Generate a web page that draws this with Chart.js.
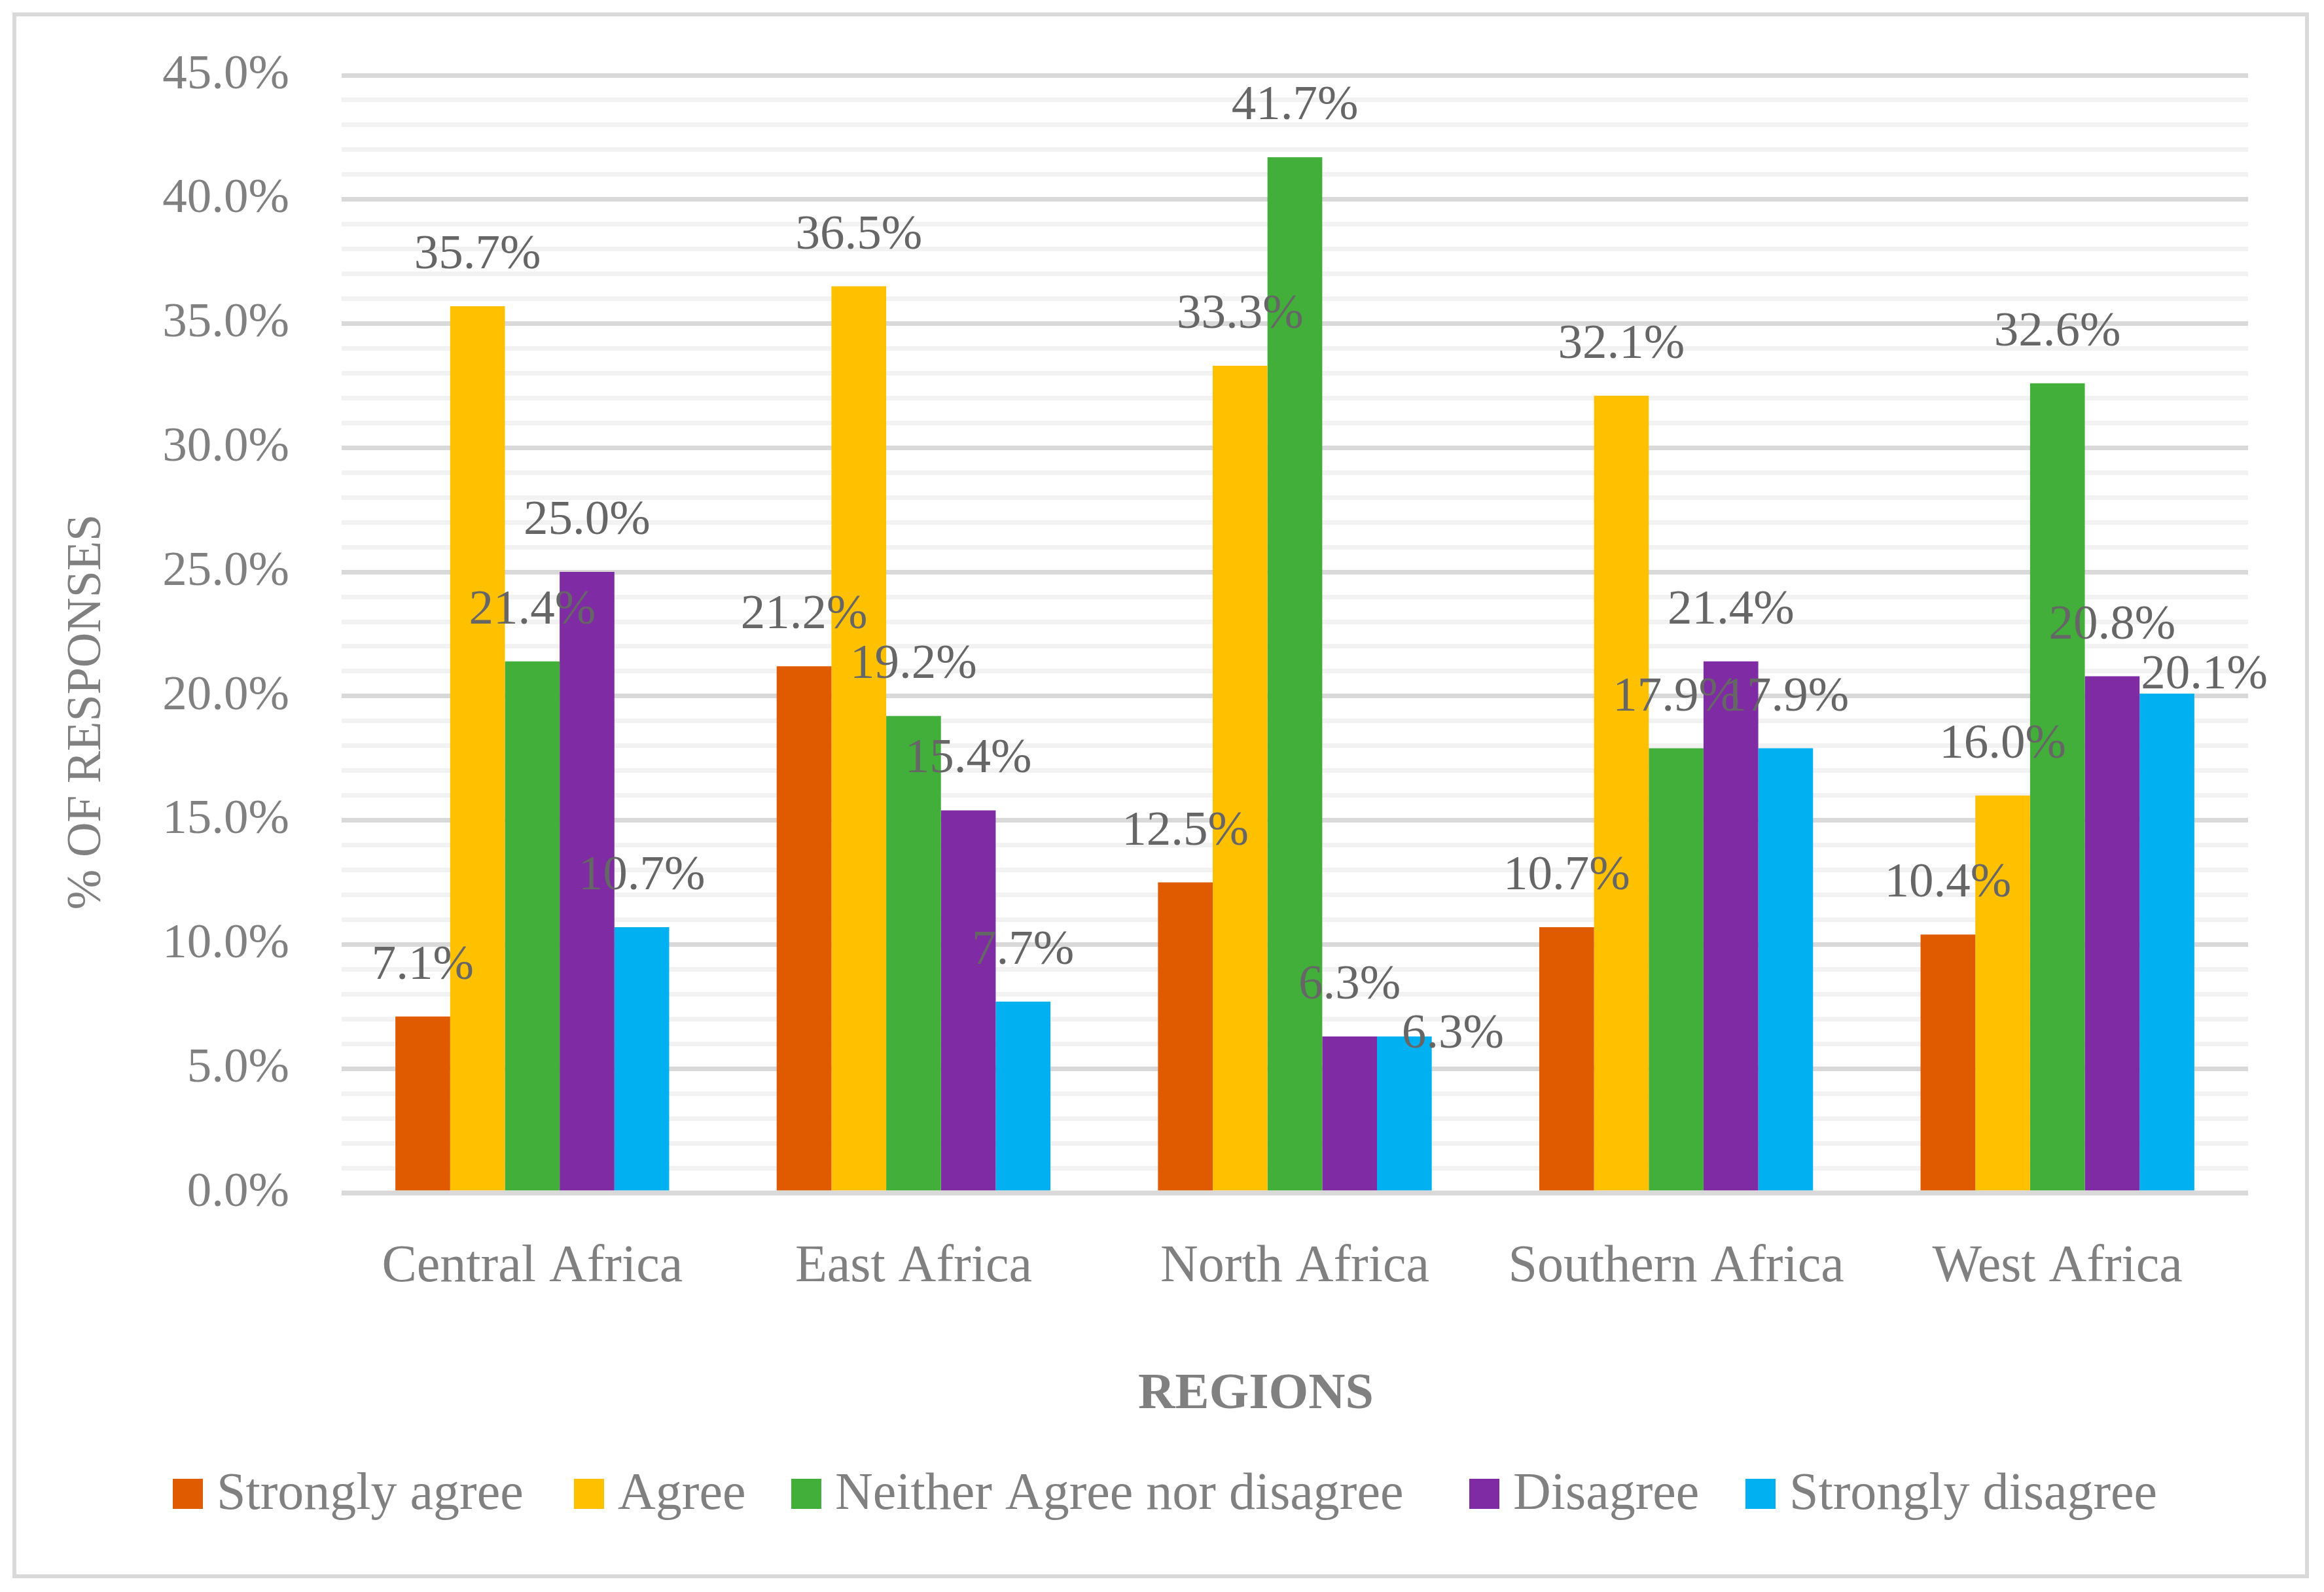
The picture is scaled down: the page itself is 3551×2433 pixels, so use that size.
<!DOCTYPE html>
<html><head><meta charset="utf-8">
<script src="https://cdn.jsdelivr.net/npm/chart.js@4.4.0/dist/chart.umd.min.js"></script>
<style>html,body{margin:0;padding:0;background:#fff;overflow:hidden;} canvas{display:block;}</style>
</head><body>
<canvas id="c" width="3551" height="2433" style="width:3551px;height:2433px"></canvas>
<script>
const categories = ['Central Africa', 'East Africa', 'North Africa', 'Southern Africa', 'West Africa'];
const seriesNames = ['Strongly agree', 'Agree', 'Neither Agree nor disagree', 'Disagree', 'Strongly disagree'];
const stronglyAgree    = [7.1, 21.2, 12.5, 10.7, 10.4];
const agree            = [35.7, 36.5, 33.3, 32.1, 16.0];
const neither          = [21.4, 19.2, 41.7, 17.9, 32.6];
const disagree         = [25.0, 15.4, 6.3, 21.4, 20.8];
const stronglyDisagree = [10.7, 7.7, 6.3, 17.9, 20.1];
const seriesColors = ['#E05A00', '#FFC000', '#43AF3B', '#7F2BA3', '#00B0F0'];
const yMin = 0, yMax = 45, yMajorStep = 5, yMinorStep = 1;
const xTitle = 'REGIONS';
const yTitle = '% OF RESPONSES';

const FONT = "'Liberation Serif', 'Times New Roman', serif";
const seriesValues = [stronglyAgree, agree, neither, disagree, stronglyDisagree];

// manually moved data labels (dataset index, category index) -> pixel nudge
const labelNudges = { '4,2': [74, 75], '4,4': [57, 50] };
// legend box left edges
const legendBoxX = [264, 877, 1209, 2245, 2667];

const decorPlugin = {
  id: 'decor',
  beforeDraw(chart) {
    const ctx = chart.ctx;
    ctx.save();
    ctx.fillStyle = '#ffffff';
    ctx.fillRect(0, 0, chart.width, chart.height);
    ctx.strokeStyle = '#d9d9d9';
    ctx.lineWidth = 6;
    ctx.strokeRect(22, 22, 3525 - 22, 2409 - 22);
    ctx.restore();
  },
  afterDatasetsDraw(chart) {
    const ctx = chart.ctx;
    const ys = chart.scales.y;
    const area = chart.chartArea;
    ctx.save();
    const y0 = ys.getPixelForValue(0);
    ctx.strokeStyle = '#d9d9d9';
    ctx.lineWidth = 7;
    ctx.beginPath();
    ctx.moveTo(area.left, y0);
    ctx.lineTo(area.right, y0);
    ctx.stroke();
    ctx.fillStyle = '#666666';
    ctx.font = '75px ' + FONT;
    ctx.textAlign = 'center';
    ctx.textBaseline = 'alphabetic';
    chart.data.datasets.forEach((ds, di) => {
      const meta = chart.getDatasetMeta(di);
      meta.data.forEach((el, i) => {
        const n = labelNudges[di + ',' + i] || [0, 0];
        ctx.fillText(ds.data[i].toFixed(1) + '%', el.x + n[0], el.y - 58 + n[1]);
      });
    });
    ctx.restore();
  },
  afterDraw(chart) {
    const ctx = chart.ctx;
    ctx.save();
    ctx.fillStyle = '#808080';
    ctx.font = '74px ' + FONT;
    ctx.textAlign = 'center';
    ctx.textBaseline = 'middle';
    ctx.translate(134, 1088);
    ctx.rotate(-Math.PI / 2);
    ctx.fillText(yTitle, 0, 0);
    ctx.restore();
    ctx.save();
    ctx.fillStyle = '#808080';
    ctx.font = 'bold 78px ' + FONT;
    ctx.textAlign = 'center';
    ctx.textBaseline = 'alphabetic';
    ctx.fillText(xTitle, 1919, 2152);
    ctx.font = '80px ' + FONT;
    ctx.textAlign = 'left';
    const box = 46, gap = 21;
    chart.data.datasets.forEach((ds, i) => {
      const x = legendBoxX[i];
      ctx.fillStyle = ds.backgroundColor;
      ctx.fillRect(x, 2260, box, box);
      ctx.fillStyle = '#808080';
      ctx.fillText(ds.label, x + box + gap, 2306);
    });
    ctx.restore();
  }
};

new Chart(document.getElementById('c'), {
  type: 'bar',
  data: {
    labels: categories,
    datasets: seriesNames.map((name, i) => ({
      label: name,
      data: seriesValues[i],
      backgroundColor: seriesColors[i],
      borderWidth: 0,
      barPercentage: 1.0,
      categoryPercentage: 0.718
    }))
  },
  options: {
    responsive: false,
    maintainAspectRatio: false,
    devicePixelRatio: 1,
    animation: false,
    layout: { padding: { left: 0, right: 116, top: 115, bottom: 0 } },
    plugins: { legend: { display: false }, tooltip: { enabled: false }, title: { display: false } },
    scales: {
      x: {
        type: 'category',
        grid: { display: false },
        border: { display: false },
        ticks: { color: '#808080', font: { family: FONT, size: 80 }, padding: 58, maxRotation: 0, autoSkip: false },
        afterFit(s) { s.height = 610; s.paddingLeft = 0; s.paddingRight = 0; }
      },
      y: {
        type: 'linear',
        min: yMin,
        max: yMax,
        border: { display: false },
        grid: {
          drawTicks: false,
          lineWidth: 7,
          color: c => (c.tick && c.tick.value % yMajorStep === 0) ? '#d9d9d9' : '#f2f2f2'
        },
        ticks: {
          stepSize: yMinorStep,
          autoSkip: false,
          padding: 80,
          color: '#808080',
          font: { family: FONT, size: 75 },
          callback: v => (v % yMajorStep === 0) ? v.toFixed(1) + '%' : ''
        },
        afterFit(s) { s.width = 522; s.paddingTop = 0; s.paddingBottom = 0; }
      }
    }
  },
  plugins: [decorPlugin]
});
</script>
</body></html>
